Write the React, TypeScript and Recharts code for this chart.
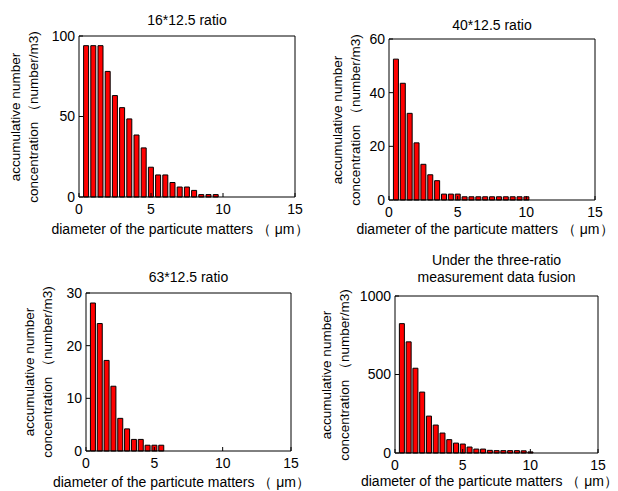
import { BarChart, Bar, XAxis, YAxis } from "recharts";

// particle diameters (µm), bar centres
const diameters = [0.5, 1, 1.5, 2, 2.5, 3, 3.5, 4, 4.5, 5, 5.5, 6, 6.5, 7, 7.5, 8, 8.5, 9, 9.5, 10];

const ratio16 = [94, 94, 94, 78, 63, 55.5, 48.5, 38.5, 30.5, 18.5, 13.7, 13.7, 9, 6.2, 6.2, 4.1, 1.5, 1.5, 1.5, 0];
const ratio40 = [52.5, 43.5, 32.3, 21.3, 13.3, 9.4, 7.2, 2.2, 2.2, 2.2, 1.2, 1.2, 1.2, 1.2, 1.2, 1.2, 1.2, 1.2, 1.2, 1.2];
const ratio63 = [28.1, 24.2, 17.2, 12.3, 6.2, 4.2, 2.2, 2.2, 1.1, 1.1, 1.1, 0, 0, 0, 0, 0, 0, 0, 0, 0];
const fusion = [824, 708, 540, 388, 235, 178, 127, 85, 63, 57, 38, 25, 25, 17, 15, 15, 15, 15, 14, 7];

const xTicks = [0, 5, 10, 15];
const xLabel = "diameter of the particute matters （ μm）";
const yLabel1 = "accumulative number";
const yLabel2 = "concentration （number/m3)";

const FONT = "Arial, 'Liberation Sans', sans-serif";

interface PanelProps {
  left: number;
  top: number;
  width: number;
  height: number;
  plot: [number, number, number, number]; // l, t, r, b inside the panel
  values: number[];
  yMax: number;
  yTicks: number[];
  title: string[];
  titleY: number;
  yLabelX: number;
  xLabelY: number;
}

function Panel(p: PanelProps) {
  const [l, t, r, b] = p.plot;
  const data = diameters.map((d, i) => ({ d, v: p.values[i] }));
  const cx = (l + r) / 2;
  const cy = (t + b) / 2;
  const axisLine = { stroke: "#000", strokeWidth: 1 };
  return (
    <div style={{ position: "absolute", left: p.left, top: p.top, width: p.width, height: p.height }}>
      <BarChart
        width={p.width}
        height={p.height}
        data={data}
        margin={{ top: t - 1, right: p.width - r - 1, bottom: p.height - b - 30, left: l - 30 }}
      >
        <XAxis
          dataKey="d"
          type="number"
          domain={[0, 15]}
          ticks={xTicks}
          interval={0}
          height={30}
          axisLine={axisLine}
          tickLine={{ stroke: "#000" }}
          tickSize={-4}
          tickMargin={11}
          tick={{ fill: "#000", fontSize: 14, fontFamily: FONT }}
        />
        <XAxis
          xAxisId="top"
          orientation="top"
          type="number"
          domain={[0, 15]}
          ticks={xTicks}
          interval={0}
          height={1}
          axisLine={axisLine}
          tickLine={{ stroke: "#000" }}
          tickSize={-4}
          tick={false}
        />
        <YAxis
          type="number"
          domain={[0, p.yMax]}
          ticks={p.yTicks}
          interval={0}
          width={30}
          axisLine={axisLine}
          tickLine={{ stroke: "#000" }}
          tickSize={-4}
          tickMargin={8}
          tick={{ fill: "#000", fontSize: 14, fontFamily: FONT }}
        />
        <YAxis
          yAxisId="right"
          orientation="right"
          type="number"
          domain={[0, p.yMax]}
          ticks={p.yTicks}
          interval={0}
          width={1}
          axisLine={axisLine}
          tickLine={{ stroke: "#000" }}
          tickSize={-4}
          tick={false}
        />
        <Bar dataKey="v" fill="#ff0000" stroke="#000" strokeWidth={1} barSize={5} isAnimationActive={false} />
      </BarChart>
      <div
        style={{
          position: "absolute",
          left: cx,
          top: p.titleY,
          transform: "translate(-50%, -50%)",
          fontSize: 14,
          lineHeight: "17px",
          textAlign: "center",
          whiteSpace: "nowrap",
        }}
      >
        {p.title.map((s) => (
          <div key={s}>{s}</div>
        ))}
      </div>
      <div
        style={{
          position: "absolute",
          left: p.yLabelX,
          top: cy,
          transform: "translate(-50%, -50%) rotate(-90deg)",
          fontSize: 13.5,
          lineHeight: "18px",
          textAlign: "center",
          whiteSpace: "nowrap",
        }}
      >
        <div>{yLabel1}</div>
        <div>{yLabel2}</div>
      </div>
      <div
        style={{
          position: "absolute",
          left: cx - 7,
          top: p.xLabelY,
          transform: "translate(-50%, -50%)",
          fontSize: 14,
          whiteSpace: "nowrap",
        }}
      >
        {xLabel}
      </div>
    </div>
  );
}

export default function App() {
  return (
    <div
      style={{
        position: "absolute",
        left: 0,
        top: 0,
        width: 618,
        height: 491,
        background: "#fff",
        overflow: "hidden",
        fontFamily: FONT,
        color: "#000",
      }}
    >
      <Panel
        left={0}
        top={0}
        width={309}
        height={245}
        plot={[79, 36, 295, 197]}
        values={ratio16}
        yMax={100}
        yTicks={[0, 50, 100]}
        title={["16*12.5 ratio"]}
        titleY={20}
        yLabelX={25}
        xLabelY={230}
      />
      <Panel
        left={309}
        top={0}
        width={309}
        height={245}
        plot={[80, 39, 286, 200]}
        values={ratio40}
        yMax={60}
        yTicks={[0, 20, 40, 60]}
        title={["40*12.5 ratio"]}
        titleY={25}
        yLabelX={38}
        xLabelY={230}
      />
      <Panel
        left={0}
        top={245}
        width={309}
        height={246}
        plot={[86, 48, 291, 206]}
        values={ratio63}
        yMax={30}
        yTicks={[0, 10, 20, 30]}
        title={["63*12.5 ratio"]}
        titleY={32}
        yLabelX={38.5}
        xLabelY={238}
      />
      <Panel
        left={309}
        top={245}
        width={309}
        height={246}
        plot={[86, 51, 289, 208]}
        values={fusion}
        yMax={1000}
        yTicks={[0, 500, 1000]}
        title={["Under the three-ratio", "measurement data fusion"]}
        titleY={23.5}
        yLabelX={26.5}
        xLabelY={237}
      />
    </div>
  );
}
